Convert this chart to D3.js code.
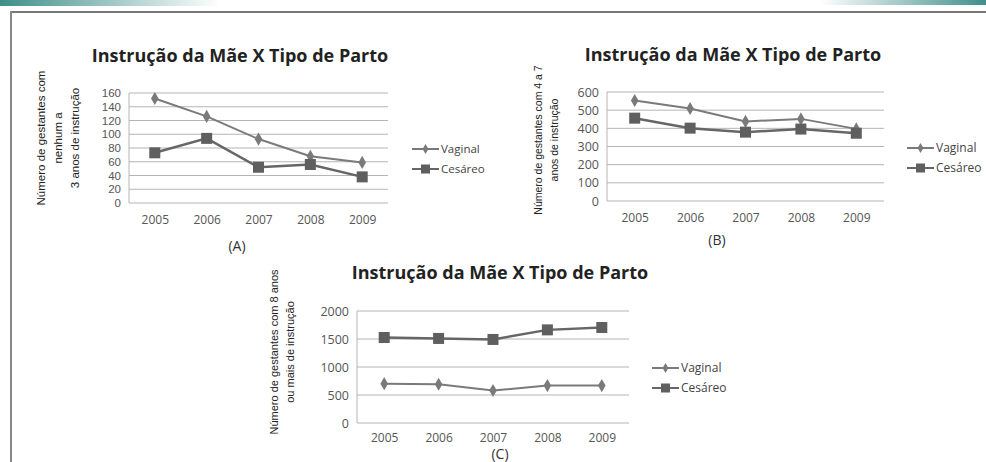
<!DOCTYPE html>
<html lang="pt">
<head>
<meta charset="UTF-8">
<script src="https://d3js.org/d3.v7.min.js"></script>
<style>
  body { margin: 0; background: #fff; }
  svg { display: block; }
  .tick text { fill: #555; }
</style>
</head>
<body>
<div id="chart"></div>
<script>
// data
const years = ["2005", "2006", "2007", "2008", "2009"];
const seriesNames = ["Vaginal", "Cesáreo"];

const vaginalA = [152, 126, 93, 68, 59];
const cesareoA = [73, 94, 52, 56, 38];
const ticksA = [0, 20, 40, 60, 80, 100, 120, 140, 160];

const vaginalB = [553, 509, 438, 452, 397];
const cesareoB = [456, 401, 379, 396, 373];
const ticksB = [0, 100, 200, 300, 400, 500, 600];

const vaginalC = [703, 692, 580, 668, 668];
const cesareoC = [1527, 1510, 1492, 1663, 1705];
const ticksC = [0, 500, 1000, 1500, 2000];

const W = 986, H = 462;
const svg = d3.select("#chart").append("svg")
  .attr("width", W).attr("height", H);

// teal slide band at the top
const defs = svg.append("defs");
const gl = defs.append("linearGradient").attr("id", "tealL");
gl.append("stop").attr("offset", "0%").attr("stop-color", "#3f8f8a");
gl.append("stop").attr("offset", "100%").attr("stop-color", "#ffffff");
const gr = defs.append("linearGradient").attr("id", "tealR");
gr.append("stop").attr("offset", "0%").attr("stop-color", "#ffffff");
gr.append("stop").attr("offset", "100%").attr("stop-color", "#3f8f8a");
svg.append("rect").attr("x", 0).attr("y", 0).attr("width", 220).attr("height", 6).attr("fill", "url(#tealL)");
svg.append("rect").attr("x", 820).attr("y", 0).attr("width", 166).attr("height", 5).attr("fill", "url(#tealR)");

// frame
svg.append("line").attr("x1", 10).attr("x2", W).attr("y1", 12).attr("y2", 12)
  .attr("stroke", "#777").attr("stroke-width", 2);
svg.append("line").attr("x1", 11).attr("x2", 11).attr("y1", 11).attr("y2", H)
  .attr("stroke", "#888").attr("stroke-width", 2);

function drawPanel(p) {
  const x = d3.scalePoint().domain(years).range([p.left + p.step / 2, p.right - p.step / 2]);
  const y = d3.scaleLinear().domain([0, d3.max(p.ticks)]).range([p.bottom, p.top]);
  const g = svg.append("g");

  // title
  g.append("text")
    .attr("x", p.titleX).attr("y", p.titleY)
    .attr("text-anchor", "middle")
    .style("font-family", "'Open Sans', sans-serif")
    .style("font-weight", "bold")
    .style("font-size", "18px")
    .style("fill", "#222")
    .text("Instrução da Mãe  X  Tipo de Parto");

  // grid
  g.append("g").selectAll("line")
    .data(p.ticks)
    .join("line")
    .attr("x1", p.left).attr("x2", p.right)
    .attr("y1", d => y(d)).attr("y2", d => y(d))
    .attr("stroke", "#b5b5b5").attr("stroke-width", 1);
  g.append("line")
    .attr("x1", p.left).attr("x2", p.left)
    .attr("y1", p.top).attr("y2", p.bottom)
    .attr("stroke", "#b5b5b5");

  // axes (labels only)
  const yAxis = g.append("g")
    .attr("transform", `translate(${p.left - 8},0)`)
    .call(d3.axisLeft(y).tickValues(p.ticks).tickFormat(d3.format("d")).tickSize(0).tickPadding(0));
  yAxis.select(".domain").remove();
  yAxis.selectAll("text")
    .style("font-family", p.tickFont)
    .style("font-size", p.tickSize + "px");

  const xAxis = g.append("g")
    .attr("transform", `translate(0,${p.bottom + p.xPad})`)
    .call(d3.axisBottom(x).tickSize(0).tickPadding(0));
  xAxis.select(".domain").remove();
  xAxis.selectAll("text")
    .style("font-family", "'Open Sans', sans-serif")
    .style("font-size", "12px").attr("dy", "0.9em");

  // y title, one rotated text per line
  p.ytLines.forEach((t, i) => {
    const cx = p.ytX + (i - (p.ytLines.length - 1) / 2) * p.ytGap;
    g.append("text")
      .attr("transform", `translate(${cx},${p.ytY}) rotate(-90)`)
      .attr("text-anchor", "middle")
      .attr("dy", "0.35em")
      .style("font-family", "'Liberation Sans', sans-serif")
      .style("font-size", p.ytSize + "px")
      .style("fill", "#222")
      .text(t);
  });

  // panel letter
  g.append("text")
    .attr("x", p.letterX).attr("y", p.letterY)
    .attr("text-anchor", "middle")
    .style("font-family", "'Open Sans', sans-serif")
    .style("font-size", "14px")
    .style("fill", "#333")
    .text(p.letter);

  const line = d3.line().x((d, i) => x(years[i])).y(d => y(d));

  // vaginal
  g.append("path").datum(p.vaginal).attr("d", line)
    .attr("fill", "none").attr("stroke", "#7a7a7a").attr("stroke-width", 2);
  g.append("g").selectAll("path")
    .data(p.vaginal)
    .join("path")
    .attr("d", d3.symbol(d3.symbolDiamond, 50))
    .attr("transform", (d, i) => `translate(${x(years[i])},${y(d)})`)
    .attr("fill", "#7a7a7a");

  // cesareo
  g.append("path").datum(p.cesareo).attr("d", line)
    .attr("fill", "none").attr("stroke", "#666").attr("stroke-width", 2.5);
  g.append("g").selectAll("rect")
    .data(p.cesareo)
    .join("rect")
    .attr("x", (d, i) => x(years[i]) - 5.5)
    .attr("y", d => y(d) - 5.5)
    .attr("width", 11).attr("height", 11)
    .attr("fill", "#5f5f5f");

  // legend
  const lg = g.append("g").attr("transform", `translate(${p.legX},${p.legY})`);
  seriesNames.forEach((name, i) => {
    const row = lg.append("g").attr("transform", `translate(0,${i * 20})`);
    row.append("line").attr("x1", 0).attr("x2", 27).attr("y1", 0).attr("y2", 0)
      .attr("stroke", i === 0 ? "#7a7a7a" : "#666").attr("stroke-width", 2);
    if (i === 0) {
      row.append("path").attr("d", d3.symbol(d3.symbolDiamond, 30))
        .attr("transform", "translate(13.5,0)").attr("fill", "#7a7a7a");
    } else {
      row.append("rect").attr("x", 9).attr("y", -4.5).attr("width", 9).attr("height", 9)
        .attr("fill", "#5f5f5f");
    }
    row.append("text").attr("x", 29).attr("y", 0).attr("dy", "0.35em")
      .style("font-family", "'Open Sans', sans-serif")
      .style("font-size", p.legSize + "px")
      .style("fill", "#444")
      .text(name);
  });
}

drawPanel({
  vaginal: vaginalA, cesareo: cesareoA, ticks: ticksA,
  left: 129, right: 388, step: 51.6, top: 93, bottom: 203, xPad: 10,
  titleX: 240, titleY: 62,
  tickFont: "'Liberation Sans', sans-serif", tickSize: 11.5, legSize: 11.5,
  ytX: 58, ytY: 138, ytSize: 11.5, ytGap: 17,
  ytLines: ["Número de gestantes com", "nenhum a", "3 anos de instrução"],
  letter: "(A)", letterX: 237, letterY: 251,
  legX: 412, legY: 149
});

drawPanel({
  vaginal: vaginalB, cesareo: cesareoB, ticks: ticksB,
  left: 607, right: 884, step: 55.4, top: 92, bottom: 201, xPad: 10,
  titleX: 733, titleY: 61,
  tickFont: "'Open Sans', sans-serif", tickSize: 12.5, legSize: 12,
  ytX: 546, ytY: 140, ytSize: 10.5, ytGap: 16,
  ytLines: ["Número de gestantes com 4 a 7", "anos de instrução"],
  letter: "(B)", letterX: 717, letterY: 245,
  legX: 907, legY: 148
});

drawPanel({
  vaginal: vaginalC, cesareo: cesareoC, ticks: ticksC,
  left: 357, right: 629, step: 54.4, top: 311, bottom: 423, xPad: 8,
  titleX: 500, titleY: 279,
  tickFont: "'Open Sans', sans-serif", tickSize: 12.5, legSize: 12,
  ytX: 282, ytY: 352, ytSize: 11, ytGap: 16,
  ytLines: ["Número de gestantes com 8 anos", "ou mais de instrução"],
  letter: "(C)", letterX: 500, letterY: 459,
  legX: 652, legY: 368
});
</script>
</body>
</html>
